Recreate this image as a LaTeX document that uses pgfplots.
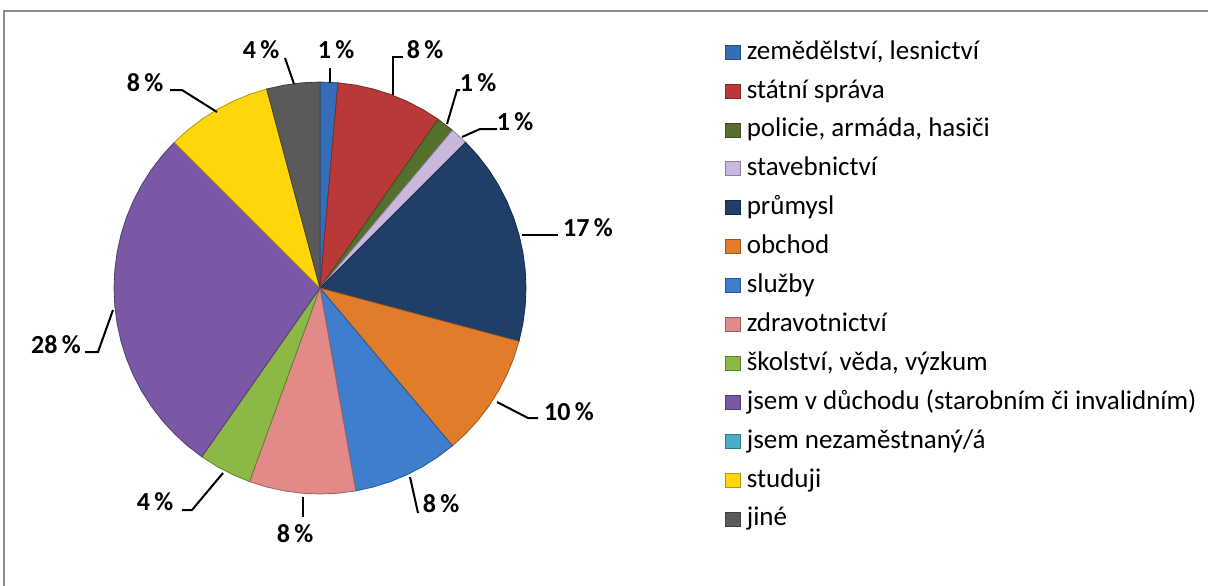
\documentclass[border=0pt]{standalone}
\usepackage{fontspec}
\setmainfont{Carlito}
\usepackage{pgfplots}
\pgfplotsset{compat=1.18}
\usepgfplotslibrary{polar}
\definecolor{cZem}{RGB}{52,110,185}
\definecolor{cRed}{RGB}{184,57,55}
\definecolor{cDGreen}{RGB}{85,112,45}
\definecolor{cLilac}{RGB}{200,184,222}
\definecolor{cNavy}{RGB}{31,62,104}
\definecolor{cOrange}{RGB}{224,124,42}
\definecolor{cBlue}{RGB}{62,126,205}
\definecolor{cPink}{RGB}{226,138,135}
\definecolor{cLGreen}{RGB}{140,185,70}
\definecolor{cPurple}{RGB}{123,88,166}
\definecolor{cCyan}{RGB}{75,172,198}
\definecolor{cYellow}{RGB}{255,214,10}
\definecolor{cGrey}{RGB}{90,90,90}
\begin{document}
\begin{tikzpicture}[x=0.5pt,y=-0.5pt]
\path[use as bounding box] (0,0) rectangle (1208,585);
\begin{scope}
\clip (0,0) rectangle (1208,585);
\draw[black!45, line width=1pt] (4,11) rectangle (1215,595);
\end{scope}
% counts out of 72 respondents: 1,6,1,1,12,7,6,6,3,20,0,6,3  (5 degrees each)
\begin{polaraxis}[
  at={(160pt,-144pt)}, anchor=origin,
  width=206pt, scale only axis, hide axis, clip=false,
  ymin=0, ymax=1,
  every axis plot/.append style={line width=0.4pt},
  legend image code/.code={\fill[#1] (0pt,-3.5pt) rectangle (7.5pt,3.5pt);},
  legend style={draw=none, fill=none, inner sep=0pt, outer sep=0pt,
    at={(1.483,1.104)}, anchor=north west, row sep=6.45pt, column sep=3pt,
    nodes={inner sep=0pt, text height=10pt, text depth=3pt,
      font=\fontsize{13.5pt}{15pt}\selectfont}},
  legend cell align=left,
]
\addplot[fill=cZem, draw=cZem!70!black] coordinates {(90,0)(90,1)(85,1)(85,0)};
\addlegendentry{zemědělství, lesnictví}
\addplot[fill=cRed, draw=cRed!70!black] coordinates {(85,0)(85,1)(80,1)(75,1)(70,1)(65,1)(60,1)(55,1)(55,0)};
\addlegendentry{státní správa}
\addplot[fill=cDGreen, draw=cDGreen!70!black] coordinates {(55,0)(55,1)(50,1)(50,0)};
\addlegendentry{policie, armáda, hasiči}
\addplot[fill=cLilac, draw=cLilac!70!black] coordinates {(50,0)(50,1)(45,1)(45,0)};
\addlegendentry{stavebnictví}
\addplot[fill=cNavy, draw=cNavy!70!black] coordinates {(45,0)(45,1)(40,1)(35,1)(30,1)(25,1)(20,1)(15,1)(10,1)(5,1)(0,1)(-5,1)(-10,1)(-15,1)(-15,0)};
\addlegendentry{průmysl}
\addplot[fill=cOrange, draw=cOrange!70!black] coordinates {(-15,0)(-15,1)(-20,1)(-25,1)(-30,1)(-35,1)(-40,1)(-45,1)(-50,1)(-50,0)};
\addlegendentry{obchod}
\addplot[fill=cBlue, draw=cBlue!70!black] coordinates {(-50,0)(-50,1)(-55,1)(-60,1)(-65,1)(-70,1)(-75,1)(-80,1)(-80,0)};
\addlegendentry{služby}
\addplot[fill=cPink, draw=cPink!70!black] coordinates {(-80,0)(-80,1)(-85,1)(-90,1)(-95,1)(-100,1)(-105,1)(-110,1)(-110,0)};
\addlegendentry{zdravotnictví}
\addplot[fill=cLGreen, draw=cLGreen!70!black] coordinates {(-110,0)(-110,1)(-115,1)(-120,1)(-125,1)(-125,0)};
\addlegendentry{školství, věda, výzkum}
\addplot[fill=cPurple, draw=cPurple!70!black] coordinates {(-125,0)(-125,1)(-130,1)(-135,1)(-140,1)(-145,1)(-150,1)(-155,1)(-160,1)(-165,1)(-170,1)(-175,1)(-180,1)(-185,1)(-190,1)(-195,1)(-200,1)(-205,1)(-210,1)(-215,1)(-220,1)(-225,1)(-225,0)};
\addlegendentry{jsem v důchodu (starobním či invalidním)}
\addlegendimage{fill=cCyan, draw=cCyan!70!black}
\addlegendentry{jsem nezaměstnaný/á}
\addplot[fill=cYellow, draw=cYellow!70!black] coordinates {(-225,0)(-225,1)(-230,1)(-235,1)(-240,1)(-245,1)(-250,1)(-255,1)(-255,0)};
\addlegendentry{studuji}
\addplot[fill=cGrey, draw=cGrey!70!black] coordinates {(-255,0)(-255,1)(-260,1)(-265,1)(-270,1)(-270,0)};
\addlegendentry{jiné}
\end{polaraxis}
% data labels with leader lines
\begin{scope}[every node/.style={font=\bfseries\fontsize{13pt}{15pt}\selectfont, inner sep=0pt}]
\node at (336,50) {1\,\%};
\draw[line width=1pt] (330,68) -- (330,83);
\node at (261,50) {4\,\%};
\draw[line width=1pt] (285,58) -- (294,84);
\node at (425,50) {8\,\%};
\draw[line width=1pt] (403,57) -- (393,57) -- (393,95);
\node at (478,83) {1\,\%};
\draw[line width=1pt] (460,90) -- (457,90) -- (447,124);
\node at (515,122) {1\,\%};
\draw[line width=1pt] (497,129) -- (480,129) -- (462,137);
\node at (588,228) {17\,\%};
\draw[line width=1pt] (522,235) -- (558,235);
\node at (569,412) {10\,\%};
\draw[line width=1pt] (497,402) -- (528,418) -- (538,418);
\node at (441,504) {8\,\%};
\draw[line width=1pt] (410,477) -- (418,513);
\node at (295,534) {8\,\%};
\draw[line width=1pt] (303,497) -- (303,517);
\node at (155,502) {4\,\%};
\draw[line width=1pt] (182,510) -- (192,510) -- (223,473);
\node at (56,345) {28\,\%};
\draw[line width=1pt] (85,352) -- (98,352) -- (113,310);
\node at (145,83) {8\,\%};
\draw[line width=1pt] (170,90) -- (182,90) -- (217,112);
\end{scope}
\end{tikzpicture}
\end{document}
